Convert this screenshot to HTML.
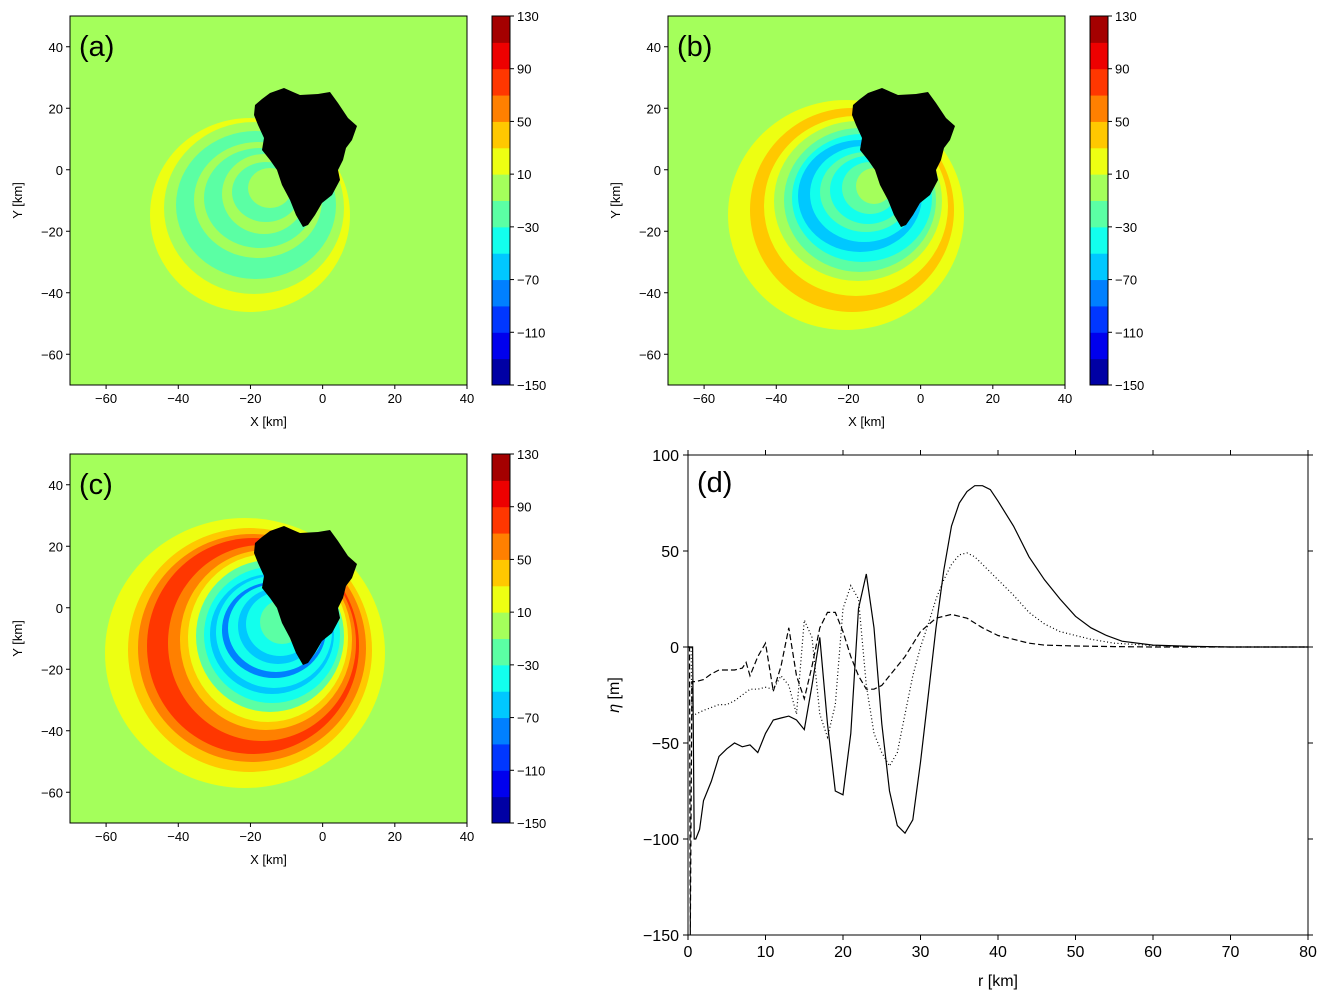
<!DOCTYPE html>
<html><head><meta charset="utf-8">
<style>
html,body{margin:0;padding:0;background:#fff;}
svg{display:block;font-family:"Liberation Sans","DejaVu Sans",sans-serif;}
</style></head>
<body>
<svg id="fig" width="1328" height="1000" viewBox="0 0 1328 1000" xmlns="http://www.w3.org/2000/svg"></svg>
<script>
// ---- chart data (panel d) ----
const solidR   = [0,0.6,0.8,1,1.5,2,3,4,5,6,7,8,9,10,11,12,13,14,15,16,17,18,19,20,21,22,23,24,25,26,27,28,29,30,31,32,33,34,35,36,37,38,39,40,42,44,46,48,50,52,54,56,60,65,70,80];
const solidEta = [0,0,-100,-100,-95,-80,-70,-57,-53,-50,-52,-51,-55,-45,-38,-37,-36,-38,-43,-20,5,-40,-75,-77,-45,20,38,10,-40,-75,-93,-97,-90,-60,-25,10,40,63,75,81,84,84,82,76,63,47,35,25,16,10,6,3,1,0.3,0,0];
const dotR   = [0,0.4,0.5,1,2,4,5,6,7,8,9,10,11,12,13,14,15,16,17,18,19,20,21,22,23,24,25,26,27,28,29,30,31,32,33,34,35,36,37,38,40,42,44,46,48,50,52,55,60,65,70,80];
const dotEta = [0,0,-35,-35,-33,-30,-30,-28,-25,-22,-22,-21,-22,-15,-20,-35,14,5,-35,-47,-30,20,32,25,-20,-45,-55,-62,-55,-35,-15,0,12,25,35,43,48,49,47,43,35,27,18,12,8,6,4,2,0.8,0.2,0,0];
const dashR   = [0,0.2,0.3,0.5,1,2,3,4,5,6,7,7.5,8,9,10,11,12,13,14,15,16,17,18,19,20,21,22,23,24,25,26,28,30,32,34,36,38,40,42,44,46,50,55,60,80];
const dashEta = [0,0,-150,-18,-18,-17,-14,-12,-12,-12,-11,-8,-15,-5,2,-23,-10,10,-15,-27,-10,10,18,18,8,-5,-15,-22,-22,-20,-15,-5,8,15,17,15,10,6,4,2,1,0.5,0.2,0,0];
const xTicks = [0,10,20,30,40,50,60,70,80];
const yTicks = [100,50,0,-50,-100,-150];
// map panels
const mapXTicks = [-60,-40,-20,0,20,40];
const mapYTicks = [40,20,0,-20,-40,-60];
const cbarLevels = [-150,-130,-110,-90,-70,-50,-30,-10,10,30,50,70,90,110,130];
const cbarLabels = [130,90,50,10,-30,-70,-110,-150];

const NS="http://www.w3.org/2000/svg";
const fig=document.getElementById('fig');
function mk(tag,attrs,parent){const e=document.createElementNS(NS,tag);for(const k in attrs)e.setAttribute(k,attrs[k]);(parent||fig).appendChild(e);return e;}
function jet(i,n){const x=(i+0.5)/n;const c=v=>Math.round(255*Math.max(0,Math.min(1,v)));
 return `rgb(${c(1.5-Math.abs(4*x-3))},${c(1.5-Math.abs(4*x-2))},${c(1.5-Math.abs(4*x-1))})`;}
const N=14;const C=i=>jet(i,N);
const fmt=v=>v<0?'\u2212'+Math.abs(v):''+v;

const island=[[255,105],[262,99],[270,93],[284,88],[293,92],[300,95],[318,94],[330,92],[338,103],[348,118],[357,126],[352,140],[346,148],[343,160],[338,170],[340,180],[332,195],[322,203],[315,215],[308,225],[303,227],[296,215],[290,200],[282,185],[277,170],[270,160],[262,150],[264,138],[258,125],[254,115]];

const layersA=[[8,250,215,100,97],[7,254,208,90,86],[6,256,205,80,74],[7,258,200,64,58],[6,260,198,56,50],[7,264,194,42,40],[6,266,192,34,30],[7,270,188,22,20]];
const layersB=[[8,248,215,118,115],[9,254,210,102,102],[8,258,206,92,90],[7,260,201,84,80],[6,262,200,76,72],[5,264,198,70,64],[4,262,196,62,56],[5,266,194,54,48],[6,268,192,46,40],[5,270,190,38,34],[6,272,188,28,26],[7,276,186,18,18]];
const layersC=[[8,245,215,140,135],[9,250,212,122,122],[10,252,210,114,114],[11,253,208,106,108],[10,262,205,94,98],[9,266,202,86,90],[8,268,200,80,84],[6,270,198,74,76],[5,272,197,68,68],[4,272,196,62,60],[5,274,194,58,56],[3,274,192,52,48],[5,276,190,48,44],[4,278,188,40,38],[5,280,186,34,32],[6,282,184,22,22]];

function mapPanel(ox,oy,label,layers,name){
 const g=mk('g',{});
 
 
 const W=397,H=369,x0=70,y0=16;
 const cid='clip'+name;
 const cp=mk('clipPath',{id:cid},g);mk('rect',{x:ox+x0,y:oy+y0,width:W,height:H},cp);
 const bg=mk('rect',{x:ox+x0,y:oy+y0,width:W,height:H,fill:C(7)},g);
 
 
 const lg=mk('g',{'clip-path':`url(#${cid})`},g);
 layers.forEach(l=>{
  const e=mk('ellipse',{cx:ox+l[1],cy:oy+l[2],rx:l[3],ry:l[4],fill:C(l[0])},lg);
  
  
 });
 const isl=mk('polygon',{points:island.map(p=>(p[0]+ox)+','+(p[1]+oy)).join(' '),fill:'#000'},g);
 
 
 const fr=mk('rect',{x:ox+x0,y:oy+y0,width:W,height:H,fill:'none',stroke:'#000','stroke-width':1},g);
 
 
 const sx=v=>ox+x0+(v+70)/110*W, sy=v=>oy+y0+(50-v)/120*H;
 mapXTicks.forEach(v=>{mk('line',{x1:sx(v),x2:sx(v),y1:oy+y0+H,y2:oy+y0+H+4,stroke:'#000'},g);
  const t=mk('text',{x:sx(v),y:oy+y0+H+18,'text-anchor':'middle','font-size':13},g);t.textContent=fmt(v);
  
  });
 mapYTicks.forEach(v=>{mk('line',{x1:ox+x0-4,x2:ox+x0,y1:sy(v),y2:sy(v),stroke:'#000'},g);
  const t=mk('text',{x:ox+x0-7,y:sy(v)+5,'text-anchor':'end','font-size':13},g);t.textContent=fmt(v);
  
  });
 const xl=mk('text',{x:ox+x0+W/2,y:oy+y0+H+41,'text-anchor':'middle','font-size':13},g);xl.textContent='X [km]';
 
 
 const yl=mk('text',{x:0,y:0,'text-anchor':'middle','font-size':13,transform:`translate(${ox+22},${oy+y0+H/2}) rotate(-90)`},g);yl.textContent='Y [km]';
 
 
 const pl=mk('text',{x:ox+79,y:oy+56,'font-size':29},g);pl.textContent=label;
 
 
 const cx=ox+492,cw=18;
 const cy=v=>oy+y0+(130-v)/280*H;
 for(let i=0;i<N;i++){
  const r=mk('rect',{x:cx,y:cy(cbarLevels[i+1]),width:cw,height:cy(cbarLevels[i])-cy(cbarLevels[i+1])+0.5,fill:C(i)},g);
  
  
 }
 mk('rect',{x:cx,y:oy+y0,width:cw,height:H,fill:'none',stroke:'#000'},g);
 cbarLabels.forEach(v=>{mk('line',{x1:cx+cw,x2:cx+cw+4,y1:cy(v),y2:cy(v),stroke:'#000'},g);
  const t=mk('text',{x:cx+cw+7,y:cy(v)+5,'font-size':13},g);t.textContent=fmt(v);
  
  });
}
mapPanel(0,0,'(a)',layersA,'panel-a');
mapPanel(598,0,'(b)',layersB,'panel-b');
mapPanel(0,438,'(c)',layersC,'panel-c');

const gd=mk('g',{});


const L=688,R=1308,T=455,B=935;
const X=r=>L+r/80*(R-L), Y=v=>T+(100-v)/250*(B-T);
const cpd=mk('clipPath',{id:'clipd'},gd);mk('rect',{x:L,y:T,width:R-L,height:B-T},cpd);
function series(rs,es,dash,name){
 const d=rs.map((r,i)=>(i?'L':'M')+X(r).toFixed(1)+','+Y(es[i]).toFixed(1)).join('');
 const p=mk('path',{d:d,fill:'none',stroke:'#000','stroke-width':1.2,'stroke-dasharray':dash,'clip-path':'url(#clipd)'},gd);
 
 
}
series(dashR,dashEta,'6,3','dashed-series');
series(dotR,dotEta,'1,2.5','dotted-series');
series(solidR,solidEta,'none','solid-series');
const frd=mk('rect',{x:L,y:T,width:R-L,height:B-T,fill:'none',stroke:'#000'},gd);


xTicks.forEach(v=>{
 mk('line',{x1:X(v),x2:X(v),y1:B,y2:B+5,stroke:'#000'},gd);
 mk('line',{x1:X(v),x2:X(v),y1:T-5,y2:T,stroke:'#000'},gd);
 const t=mk('text',{x:X(v),y:B+22,'text-anchor':'middle','font-size':16},gd);t.textContent=fmt(v);
 
 
});
yTicks.forEach(v=>{
 mk('line',{x1:L-5,x2:L,y1:Y(v),y2:Y(v),stroke:'#000'},gd);
 mk('line',{x1:R,x2:R+5,y1:Y(v),y2:Y(v),stroke:'#000'},gd);
 const t=mk('text',{x:L-9,y:Y(v)+6,'text-anchor':'end','font-size':16},gd);t.textContent=fmt(v);
 
 
});
const xld=mk('text',{x:(L+R)/2,y:986,'text-anchor':'middle','font-size':16},gd);xld.textContent='r [km]';


const yld=mk('text',{x:0,y:0,'text-anchor':'middle','font-size':16,transform:`translate(619,${(T+B)/2}) rotate(-90)`},gd);yld.innerHTML='<tspan font-style="italic">η</tspan> [m]';


const pld=mk('text',{x:697,y:492,'font-size':29},gd);pld.textContent='(d)';


</script>
</body></html>
